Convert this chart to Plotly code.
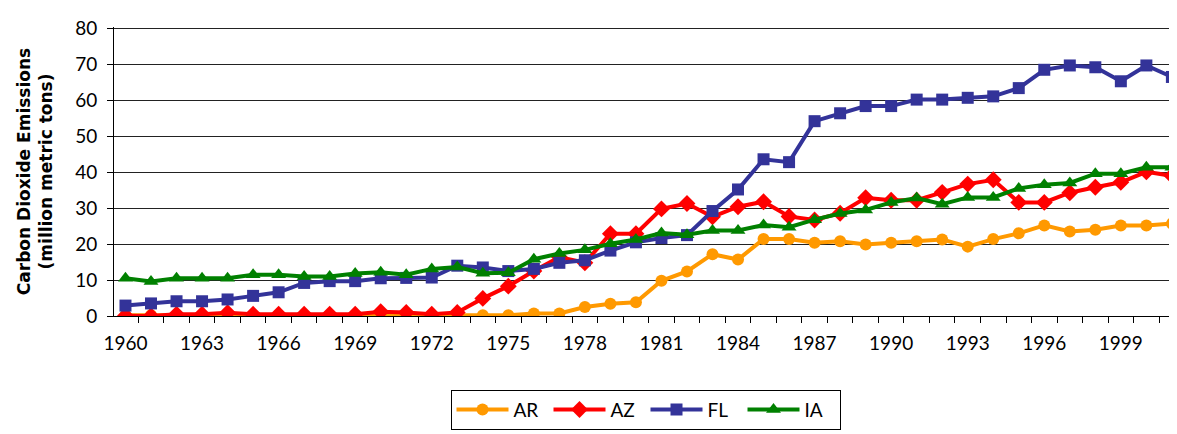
import plotly.graph_objs as go

years = list(range(1960, 2002))

ar = [0.2, 0.2, 0.2, 0.2, 0.2, 0.2, 0.2, 0.2, 0.2, 0.2,
      0.2, 0.2, 0.2, 0.2, 0.2, 0.2, 0.7, 0.7, 2.5, 3.4,
      3.8, 9.8, 12.4, 17.2, 15.7, 21.4, 21.4, 20.4, 20.8, 19.9,
      20.4, 20.8, 21.3, 19.3, 21.4, 23.0, 25.2, 23.5, 24.0, 25.2,
      25.2, 25.7]
az = [0.1, 0.0, 0.5, 0.5, 0.9, 0.5, 0.5, 0.5, 0.5, 0.5,
      1.2, 1.0, 0.5, 1.0, 4.9, 8.3, 12.5, 16.4, 14.8, 22.9,
      22.9, 29.8, 31.3, 27.6, 30.4, 31.8, 27.7, 26.7, 28.6, 32.9,
      32.2, 32.2, 34.4, 36.7, 37.9, 31.6, 31.6, 34.3, 35.8, 37.2,
      40.1, 39.0]
fl = [2.9, 3.5, 4.1, 4.1, 4.6, 5.6, 6.6, 9.2, 9.7, 9.7,
      10.5, 10.6, 10.7, 14.0, 13.5, 12.5, 13.1, 14.8, 15.5, 18.2,
      20.5, 21.7, 22.5, 29.2, 35.2, 43.6, 42.8, 54.2, 56.4, 58.4,
      58.4, 60.2, 60.2, 60.7, 61.1, 63.4, 68.5, 69.7, 69.2, 65.3,
      69.7, 66.5]
ia = [10.5, 9.6, 10.5, 10.5, 10.5, 11.5, 11.5, 11.0, 11.0, 11.8,
      12.2, 11.5, 13.1, 13.6, 11.9, 12.0, 15.8, 17.4, 18.4, 20.1,
      21.3, 23.1, 22.6, 23.8, 23.8, 25.3, 24.7, 26.8, 28.5, 29.5,
      31.6, 32.8, 31.1, 33.0, 33.0, 35.5, 36.5, 37.0, 39.6, 39.6,
      41.4, 41.4]

y_ticks = [0, 10, 20, 30, 40, 50, 60, 70, 80]

series = [
    ('AR', ar, '#FF9900', 'circle', 12),
    ('AZ', az, '#FF0000', 'diamond', 13),
    ('FL', fl, '#333399', 'square', 12),
    ('IA', ia, '#008000', 'triangle-up', 13),
]

font = 'Lato, Noto Sans, sans-serif'

fig = go.Figure()
for name, vals, color, symbol, msize in series:
    fig.add_trace(go.Scatter(
        x=years, y=vals, name=name, mode='lines+markers',
        line=dict(color=color, width=4),
        marker=dict(color=color, symbol=symbol, size=msize),
    ))

# invisible trace to carry the year-boundary tick marks
fig.add_trace(go.Scatter(x=[years[0]], y=[0], xaxis='x2', showlegend=False,
                         mode='markers', marker=dict(opacity=0), hoverinfo='skip'))

x_range = [1959.55, 2001.2]
# the page body adds an 8px margin, so the plot margins are shifted by 8
fig.update_layout(
    width=1177, height=434,
    margin=dict(l=106, r=8, t=10, b=126),
    plot_bgcolor='white', paper_bgcolor='white',
    font=dict(family=font, size=19, color='black'),
    xaxis=dict(
        range=x_range, tickmode='array',
        tickvals=years[::3], ticktext=[str(y) for y in years[::3]],
        ticks='outside', ticklen=10, tickcolor='rgba(0,0,0,0)',
        showgrid=False, showline=True, linecolor='black',
        linewidth=1, zeroline=False,
    ),
    xaxis2=dict(
        range=x_range, overlaying='x', tickmode='array',
        tickvals=[y - 0.5 for y in years] + [years[-1] + 0.5],
        showticklabels=False, ticks='outside', ticklen=6, tickcolor='black',
        showgrid=False, showline=False, zeroline=False, side='bottom',
    ),
    yaxis=dict(
        range=[0, 80.4], tickmode='array', tickvals=y_ticks,
        ticks='outside', ticklen=6, tickcolor='black',
        ticklabelstandoff=6, ticklabeloverflow='allow',
        showgrid=True, gridcolor='#222222', gridwidth=1,
        showline=True, linecolor='black', linewidth=1, zeroline=False,
        title=dict(text='<b>Carbon Dioxide Emissions<br>(million metric tons)</b>',
                   font=dict(family='DejaVu Sans', size=17), standoff=18),
    ),
    legend=dict(
        orientation='h', x=0.5, xanchor='center', y=-0.255, yanchor='top',
        bordercolor='black', borderwidth=1, font=dict(size=19),
        entrywidth=30, itemwidth=52,
    ),
)

fig.write_html('out.html')
